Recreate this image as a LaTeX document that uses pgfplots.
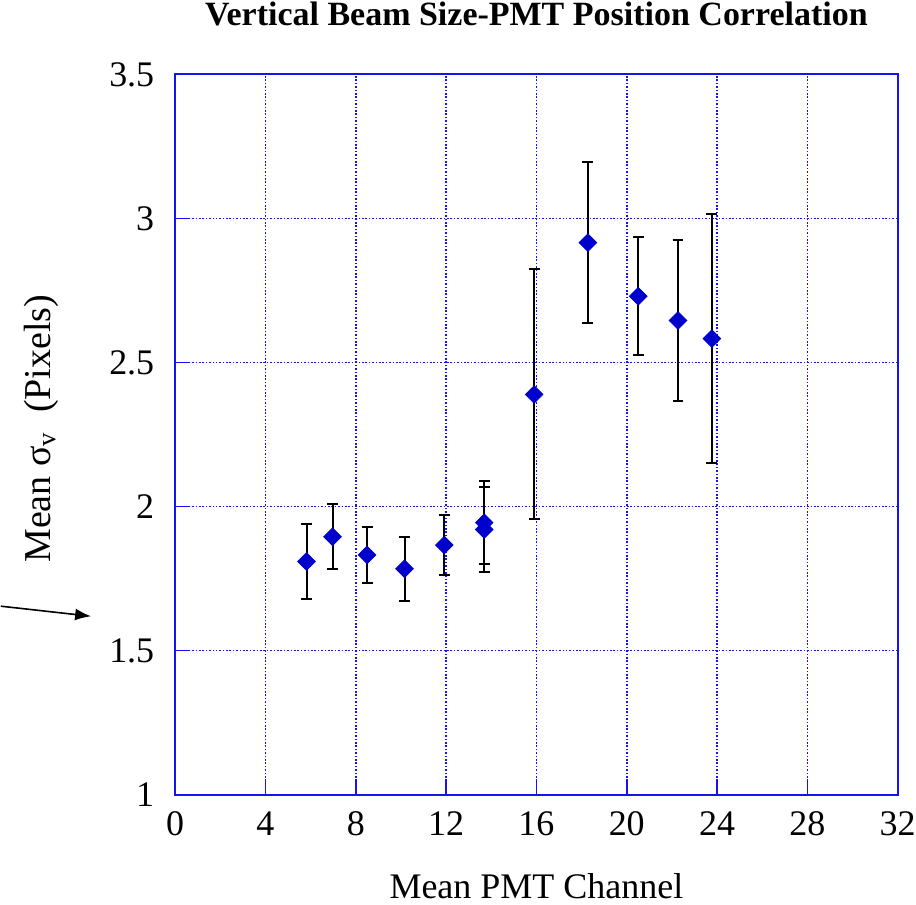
\documentclass[border=0pt]{standalone}
\usepackage{pgfplots}
\pgfplotsset{compat=1.18}
\usepackage{fontspec}
\setmainfont{Liberation Serif}
\usetikzlibrary{arrows.meta}
\definecolor{axblue}{RGB}{20,20,235}
\definecolor{mkblue}{RGB}{0,0,205}
\begin{document}
\begin{tikzpicture}
\begin{axis}[
  scale only axis,
  width=361.5pt, height=360.25pt,
  xmin=0, xmax=32, ymin=1, ymax=3.5,
  xtick={0,4,...,32}, ytick={1,1.5,...,3.5},
  /pgf/number format/assume math mode=true,
  yticklabel style={/pgf/number format/fixed},
  tick label style={font=\fontsize{18}{20}\selectfont, text=black, inner sep=0pt},
  xticklabel style={anchor=north, yshift=-8.3pt},
  yticklabel style={anchor=east, xshift=-10.25pt},
  axis line style={axblue, line width=1pt},
  tick style={axblue, line width=0.8pt},
  major tick length=7pt,
  tick align=inside,
  tick pos=left,
  grid=major,
  major grid style={axblue, line width=0.8pt, dash pattern=on 0.8pt off 0.9pt},
  clip=false,
  title={Vertical Beam Size-PMT Position Correlation},
  title style={font=\bfseries\fontsize{17}{20}\selectfont, inner sep=0pt, at={(axis description cs:0.5,1)}, anchor=base, yshift=18.7pt},
  xlabel={Mean PMT Channel},
  xlabel style={font=\fontsize{18}{20}\selectfont, inner sep=0pt, at={(axis description cs:0.5,0)}, anchor=base, yshift=-52pt},
  ylabel={Mean σ\textsubscript{v}\ \ (Pixels)},
  ylabel style={font=\fontsize{19}{21}\selectfont, inner sep=0pt, at={(axis description cs:0,0.508)}, anchor=base, yshift=62.5pt},
]
\addplot[only marks, mark=square*, mark size=3.1pt,
  mark options={mkblue, rotate=45},
  error bars/.cd, y dir=both, y explicit,
  error bar style={black, line width=1pt},
  error mark options={black, rotate=90, line width=1pt, mark size=2.75pt}]
  table[x=x, y=y, y error=e] {
  x      y      e
  5.82   1.809  0.130
  6.97   1.895  0.112
  8.50   1.832  0.098
  10.16  1.784  0.111
  11.92  1.866  0.105
  13.69  1.944  0.144
  13.69  1.920  0.147
  15.90  2.389  0.434
  18.28  2.916  0.280
  20.51  2.730  0.205
  22.27  2.646  0.281
  23.77  2.583  0.431
  };
\draw[black, line width=0.8pt, -{Latex[length=8pt,width=6pt]}] (axis cs:-7.72,1.654) -- (axis cs:-3.72,1.619);
\path (axis cs:-7.72,0.6175) rectangle (axis cs:32.81,3.7585);
\end{axis}
\end{tikzpicture}
\end{document}
